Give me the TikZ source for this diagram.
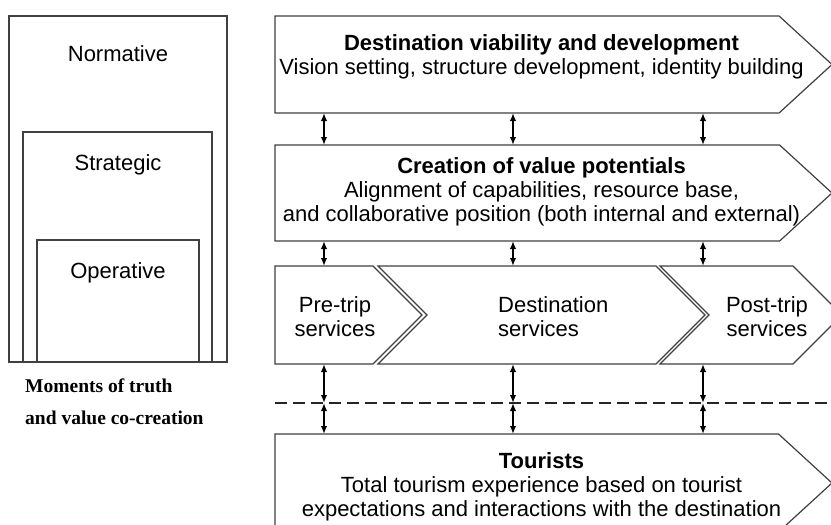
\documentclass[tikz,border=0pt]{standalone}
\usepackage{fontspec}
\setmainfont{Liberation Sans}
\newfontfamily\timesfont{Liberation Serif}
\usetikzlibrary{shapes.symbols,arrows.meta}

\begin{document}
\begin{tikzpicture}[x=1pt,y=-1pt,
    stage/.style={
      % The shape:
      signal,signal to=east,signal pointer angle=90,
      inner sep=0pt,outer sep=0pt,
      % The rest
      line width=1.2pt,draw=black!75,fill=white},
    level/.style={draw=black!75,line width=1.2pt},
    body/.style={font=\fontsize{22}{24}\selectfont,align=center,inner sep=0pt},
    note/.style={font=\timesfont\bfseries\fontsize{19.5}{24}\selectfont,inner sep=0pt,anchor=base west},
    link/.style={<->,>={Latex[length=8pt,width=6.5pt]},line width=2pt},
    cut/.style={line width=2.8pt,draw=black!85,dash pattern=on 12pt off 6pt}]
    \fill[white] (0,0) rectangle (831,525);
    \useasboundingbox (0,0) rectangle (831,525);
    % management levels
    \draw[level] (9,16) rectangle (227,362);
    \draw[level] (23,132) rectangle (212,362);
    \draw[level] (37,240) rectangle (199,362);
    \node (norm) [body,anchor=base] at (118,61) {Normative};
    \node (strat) [body,anchor=base] at (118,170) {Strategic};
    \node (oper) [body,anchor=base] at (118,278) {Operative};
    \node (truth) [note] at (25,392) {Moments of truth};
    \node (cocre) [note] at (25,424) {and value co-creation};
    % value chain
    \node (dvd) [stage,signal pointer angle=85,minimum width=557,minimum height=97,anchor=west] at (275,64.5) {};
    \node (cvp) [stage,signal pointer angle=85,minimum width=557,minimum height=96,anchor=west] at (275,193) {};
    \node (pre) [stage,minimum width=147,minimum height=98,anchor=west] at (275,315) {};
    \node (dest) [stage,signal from=west,minimum width=327,minimum height=98,anchor=east] at (705,315) {};
    \node (post) [stage,signal from=west,minimum width=182,minimum height=98,anchor=east] at (842,315) {};
    \node (tour) [stage,signal pointer angle=85,minimum width=557,minimum height=98,anchor=west] at (275,483) {};
    \node (dvdtext) [body] at (541.5,56.5) {\textbf{Destination viability and development}\\
      Vision setting, structure development, identity building};
    \node (cvptext) [body] at (541.5,191.4) {\textbf{Creation of value potentials}\\
      Alignment of capabilities, resource base,\\
      and collaborative position (both internal and external)};
    \node (pretext) [body] at (335,316.3) {Pre-trip\\services};
    \node (desttext) [body,align=left,anchor=west] at (498,316.3) {Destination\\services};
    \node (posttext) [body] at (767,316.3) {Post-trip\\services};
    \node (tourtext) [body] at (541.5,486.4) {\textbf{Tourists}\\
      Total tourism experience based on tourist\\
      expectations and interactions with the destination};
    % line of visibility
    \coordinate (cutl) at (275,403);
    \coordinate (cutr) at (831,403);
    \draw[cut] (cutl) -- (cutr);
    \coordinate (c1) at (324,0);
    \coordinate (c2) at (513,0);
    \coordinate (c3) at (703,0);
    \foreach \c/\s in {c1/pre,c2/dest,c3/post} {
      \draw[link] (dvd.south -| \c) -- (cvp.north -| \c);
      \draw[link] (cvp.south -| \c) -- (\s.north -| \c);
      \draw[link] (\s.south -| \c) -- (cutl -| \c);
      \draw[link] (cutl -| \c) -- (tour.north -| \c);
    }
  \end{tikzpicture}
\end{document}
